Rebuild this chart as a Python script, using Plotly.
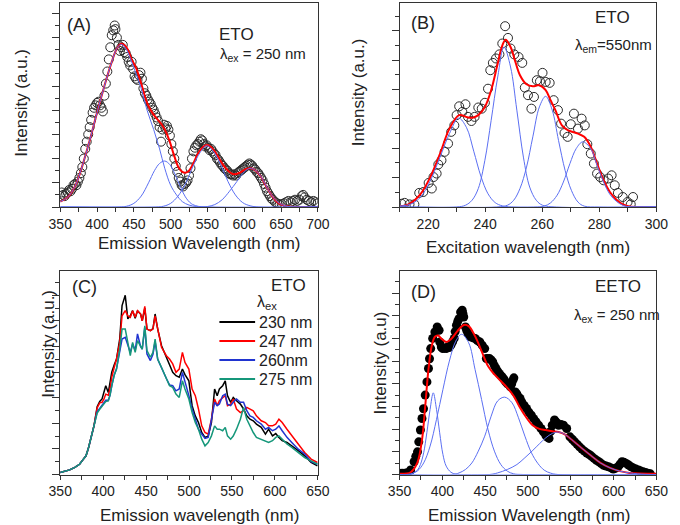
import plotly.graph_objects as go

W, H = 680, 525
def px(x): return x / W
def py(y): return 1 - y / H

FONT = "Liberation Sans, Arial, sans-serif"
RED = "#ff0000"
BLUE = "#5b6ff2"

# ---------------- Panel A: ETO emission, lambda_ex = 250 nm ----------------
a_x = [350,352,354,356,358,360,362,364,366,368,
       370,372,374,376,378,380,382,384,386,388,
       390,392,394,396,398,400,402,404,406,408,
       410,412,414,416,418,420,422,424,425,427,
       429,431,433,435,437,439,441,443,445,447,
       449,451,453,455,457,459,461,463,465,467,
       469,471,473,475,477,479,481,483,485,487,
       489,491,493,495,497,499,501,503,505,507,
       509,511,513,515,517,519,521,523,525,527,
       529,531,533,535,537,539,541,543,545,547,
       549,551,553,555,557,559,561,563,565,567,
       569,571,573,575,577,579,581,583,585,587,
       589,591,593,595,597,599,601,603,605,607,
       609,611,613,615,617,619,621,623,625,627,
       629,631,633,635,637,639,642,645,648,651,
       654,657,660,663,666,669,672,675,678,680,
       682,685,688,691,694,697,700]
a_y = [0.45,0.6,0.5,0.45,0.55,0.6,0.7,0.65,0.75,0.9,
       0.95,0.9,1.05,1.2,1.4,1.65,2.0,2.4,2.7,3.0,
       3.3,3.6,3.9,4.1,4.2,4.3,4.35,4.2,4.1,3.95,
       4.6,5.1,5.6,6.1,6.6,7.1,7.3,7.5,7.35,7.0,
       6.7,6.45,6.6,6.7,6.4,6.35,6.2,6.0,5.85,6.0,
       5.7,5.4,5.3,5.25,5.45,5.55,5.3,4.9,4.7,4.6,
       4.45,4.35,4.25,4.1,4.0,3.85,3.7,3.55,3.3,2.7,
       3.2,3.4,3.25,3.35,3.2,2.95,2.6,2.3,2.0,1.7,
       1.45,1.2,1.05,0.9,0.85,0.95,1.0,1.1,1.3,1.6,
       2.0,2.3,2.45,2.55,2.6,2.7,2.8,2.75,2.6,2.5,
       2.55,2.45,2.35,2.4,2.3,2.2,2.15,2.0,1.95,1.85,
       1.75,1.7,1.6,1.55,1.5,1.4,1.35,1.35,1.3,1.35,
       1.3,1.4,1.45,1.5,1.55,1.6,1.65,1.7,1.75,1.8,
       1.75,1.7,1.6,1.55,1.45,1.4,1.3,1.2,1.1,0.95,
       0.8,0.65,0.55,0.45,0.35,0.3,0.2,0.15,0.1,0.12,
       0.15,0.2,0.25,0.2,0.25,0.3,0.25,0.3,0.45,0.5,
       0.4,0.3,0.25,0.2,0.25,0.2,0.15]
a_fit_x = [350,360,370,380,390,400,410,420,427,433,440,447,453,461,468,475,481,487,492,498,
           505,511,516,520,525,530,537,543,549,555,562,570,578,586,594,601,608,615,622,630,
           638,645,652,660,670,700]
a_fit_y = [0.22,0.4,0.85,1.7,2.75,3.9,5.0,6.0,6.55,6.75,6.6,6.1,5.75,5.0,4.3,3.9,3.66,3.45,3.2,2.77,
           2.1,1.62,1.45,1.42,1.5,1.75,2.2,2.45,2.56,2.48,2.2,1.8,1.5,1.35,1.42,1.55,1.6,1.52,1.28,0.85,
           0.45,0.2,0.08,0.02,0,0]
a_c1_x = [350,360,370,380,390,400,410,420,427,433,440,447,453,460,468,477,485,492,500,508,516,525,535,550,700]
a_c1_y = [0.22,0.4,0.85,1.7,2.75,3.9,5.0,6.0,6.55,6.72,6.5,6.0,5.5,4.9,4.0,3.2,2.4,1.6,0.9,0.5,0.22,0.08,0.02,0,0]
a_c2_x = [350,430,440,450,460,470,478,485,492,499,506,513,520,528,536,545,700]
a_c2_y = [0,0,0.03,0.15,0.45,1.0,1.5,1.8,1.9,1.75,1.35,0.85,0.42,0.14,0.04,0,0]
a_c3_x = [350,480,490,500,510,520,530,540,549,558,568,578,588,598,608,620,700]
a_c3_y = [0,0,0.03,0.15,0.45,0.95,1.65,2.25,2.53,2.3,1.75,1.05,0.5,0.18,0.05,0,0]
a_c4_x = [350,540,550,560,570,580,590,600,608,616,624,632,640,648,656,665,700]
a_c4_y = [0,0,0.02,0.1,0.3,0.65,1.05,1.45,1.6,1.5,1.2,0.75,0.38,0.15,0.05,0,0]

# ---------------- Panel B: ETO excitation, lambda_em = 550 nm ----------------
b_x = [210.7,211.8,213.5,215.2,216.9,218.3,220.2,221.3,221.9,223,
       223.6,224.7,225.8,227,228.1,229.2,230,230.9,232,233.1,
       234,235.2,236.3,237.6,238.8,239.9,241,241.8,242.7,243.8,
       245,246,247,248,248.9,250.2,251.7,253,253.9,255,
       256.2,257.1,258.1,259.2,260.1,261.2,262.6,264,265.5,266.6,
       267.8,268.9,270,271.1,272.5,273.8,274.9,275.8,277,278.1,
       279.2,280.3,281.5,283.1,284.3,285.4,286.5,288.2,289.9,291,
       291.8]
b_y = [0.11,0.14,0.09,0.09,0.48,0.51,0.82,0.63,1.02,1.14,
       1.45,1.59,1.88,2.16,2.56,2.78,3.13,3.43,3.24,3.5,
       3.07,2.93,3.07,3.39,3.35,3.55,4.03,4.66,4.91,5.06,
       5.2,5.57,6.16,5.76,5.4,5.2,5.11,4.91,4.07,3.81,
       3.35,3.75,4.32,4.28,4.57,4.26,4.23,3.64,3.3,2.84,
       2.52,2.39,2.82,3.18,2.67,3.01,2.78,2.14,1.82,1.48,
       1.14,1.02,0.91,0.97,1.08,0.74,0.48,0.34,0.17,0.09,
       0.34]
b_fit_x = [210,213.5,217.4,220.8,224.2,227.5,230.9,233.7,235.6,237.6,239.9,242.1,244.4,246,247.2,
           248.9,250.6,252.2,254.5,256.7,259,261.2,262.9,264.6,266.9,269.1,272.5,274.7,277,279.2,
           281.5,283.7,286,288.2,290.4,293,300]
b_fit_y = [0.02,0.11,0.45,1.02,1.82,2.67,3.13,3.06,3.04,3.13,3.41,3.98,4.89,5.5,5.7,
           5.45,4.94,4.49,4.18,4.11,4.15,3.98,3.64,3.3,2.78,2.61,2.5,2.39,2.05,1.48,
           0.91,0.51,0.25,0.09,0.02,0,0]
b_c1_x = [210,214,217.4,220.8,224.2,227.5,230.7,233.5,236,238.5,241,243.5,246,250,300]
b_c1_y = [0.03,0.1,0.34,0.9,1.7,2.5,3.03,2.7,1.9,1.05,0.45,0.15,0.04,0,0]
b_c2_x = [210,230,233.1,235.4,237.6,239.9,242.1,244.4,246.6,248.9,251.1,253.4,255.6,257.9,260.1,265,300]
b_c2_y = [0,0,0.06,0.23,0.63,1.59,2.95,4.43,5.45,4.77,3.3,1.7,0.68,0.23,0.06,0,0]
b_c3_x = [210,244,247.8,250,252.2,254.5,256.7,259,261.2,263.5,265.7,268,270.2,272.5,274.7,280,300]
b_c3_y = [0,0,0.06,0.23,0.63,1.36,2.39,3.41,3.77,3.3,2.27,1.25,0.57,0.17,0.03,0,0]
b_c4_x = [210,257,260.7,262.9,265.2,267.4,269.7,271.9,274.2,277,279.2,281.5,283.7,286,288.2,290.4,295,300]
b_c4_y = [0,0,0.03,0.14,0.4,0.85,1.48,1.99,2.22,1.99,1.42,0.85,0.43,0.19,0.06,0.01,0,0]

# ---------------- Panel C: ETO emission at several excitation wavelengths ----------------
c_x = [350,355,361,367,372.5,377,380,383,385.6,389.3,
       393,396,398.7,401,403,406,408,410,413,415.5,
       419.3,422,425.7,428.7,431.6,434.3,437.3,440,443.6,445.5,
       448.5,451,455,458,460.5,463.5,468,473.6,477.3,481,
       484.8,488.6,492.3,495.3,499.8,503.6,507.3,511,514.8,518.6,
       522.3,526.1,529.8,532.8,535.4,539.2,542.2,544.8,548.5,551.5,
       555.3,559.8,563.5,567.3,571,574.8,578.5,584.1,589,592.7,
       597.2,601,604.7,608.5,614.1,619.7,627.2,634.7,642.2,649.6]
c_230 = [0.08,0.12,0.18,0.28,0.4,0.6,0.73,1.05,1.38,1.9,
         2.65,2.85,2.95,3.2,3.47,3.2,3.6,4.0,4.3,4.5,
         5.3,6.6,7.0,6.08,6.2,6.4,6.1,6.4,6.27,6.0,
         6.5,5.68,5.62,5.7,6.27,5.68,5.03,4.6,4.32,3.99,
         3.86,3.8,4.12,3.9,3.66,2.69,2.29,2.03,1.64,1.45,
         1.5,2.03,3.34,3.08,3.34,3.47,3.66,3.08,2.82,3.01,
         2.88,2.75,2.56,2.29,2.16,2.1,1.97,1.84,1.58,1.77,
         1.51,1.6,1.45,1.32,1.25,1.12,0.93,0.73,0.47,0.34]
c_247 = [0.08,0.12,0.18,0.28,0.4,0.6,0.73,1.05,1.38,1.9,
         2.6,2.8,2.82,2.95,3.14,3.1,3.35,3.8,4.2,4.5,
         5.16,6.2,6.4,6.2,6.14,6.4,6.14,6.4,6.27,6.0,
         6.57,5.68,5.62,5.68,6.2,5.68,4.97,4.64,4.51,4.32,
         3.99,4.12,4.77,4.38,4.12,3.34,3.08,2.56,1.9,1.64,
         1.58,2.16,2.95,2.69,2.88,3.0,3.08,2.69,2.75,2.95,
         2.56,2.42,2.49,2.62,2.56,2.49,2.29,2.1,2.03,1.9,
         1.9,1.97,2.16,2.03,1.77,1.51,1.19,0.86,0.6,0.47]
c_260 = [0.08,0.12,0.18,0.28,0.4,0.6,0.73,1.05,1.38,1.9,
         2.45,2.6,2.7,2.8,2.9,2.9,3.1,3.45,3.9,4.12,
         4.8,5.29,5.36,5.03,4.77,5.1,4.84,5.49,5.0,4.9,
         5.75,4.71,4.45,4.7,5.2,4.5,4.15,3.75,3.5,3.47,
         3.27,3.34,3.99,3.66,3.08,2.56,2.16,1.77,1.58,1.41,
         1.45,2.16,2.82,2.69,2.75,3.08,3.14,2.75,2.69,2.82,
         2.95,2.82,2.82,2.49,2.29,2.23,2.1,1.97,1.77,1.84,
         1.71,1.77,1.9,1.71,1.45,1.25,0.99,0.8,0.5,0.4]
c_275 = [0.08,0.12,0.18,0.28,0.4,0.6,0.73,1.05,1.38,1.9,
         2.4,2.55,2.65,2.75,2.85,2.88,3.1,3.47,3.9,4.12,
         4.9,5.68,5.68,5.16,4.64,5.16,4.77,5.23,5.03,4.9,
         5.81,4.84,4.58,4.77,5.29,4.51,4.18,3.79,3.47,3.4,
         3.14,3.01,3.66,3.34,2.95,2.42,2.03,1.77,1.38,1.12,
         1.25,1.51,1.9,1.77,1.77,1.71,1.84,1.51,1.38,1.5,
         1.77,2.16,2.62,2.16,1.9,1.64,1.45,1.38,1.32,1.25,
         1.32,1.45,1.51,1.38,1.19,1.06,0.86,0.66,0.53,0.4]
c_names = ["230 nm", "247 nm", "260nm", "275 nm"]
c_colors = ["#000000", "#ff0000", "#2034d0", "#15977a"]

# ---------------- Panel D: EETO emission, lambda_ex = 250 nm ----------------
d_x = [350,353,356,359,363,367,369,371,372.5,374.4,
       376.2,378,380,382,383.8,385,386.4,388.7,391.3,394,
       396.2,397,398.8,400.5,402.5,404.5,406.3,408,410,412,
       413.8,415,416.5,418,419.4,421.3,423.2,424,425,427,
       428.5,430,432,433.7,436,438.3,441,443.8,446.5,449.5,
       451.4,453,455.1,457,458.9,460.8,462.6,464.5,466.4,468,
       470,472,474,476,479.5,481,482.5,483.5,485.2,487,
       489,490.8,492.7,495.5,498.3,501,503.9,506.7,509.5,512.4,
       515.2,518,520.8,522.7,524.6,526.5,528.3,531,533.4,535.8,
       538.7,541.5,545.2,549,551.8,554.6,557.4,560.2,563,565.9,
       568.7,571.5,574.3,577.1,580,582.8,585.6,588.4,591.2,594,
       597,599.7,602.5,605.3,607.5,609.8,612,614.7,617.5,620.3,
       623,626,629,631.6,634.4,637.2,640,642.9]
d_y = [0.05,0.05,0.06,0.08,0.2,0.56,0.8,1.0,1.44,1.96,
       2.47,2.9,3.5,4.08,4.67,5.1,5.55,6.0,6.28,6.5,
       6.36,5.84,5.62,5.55,5.58,5.55,5.62,5.6,5.7,5.85,
       6.0,6.3,6.58,6.75,6.87,7.16,7.24,7.1,6.94,6.5,
       6.35,6.21,6.1,6.06,6.02,6.0,5.9,5.84,5.7,5.55,
       5.11,5.1,5.11,5.05,4.96,4.8,4.67,4.55,4.45,4.38,
       4.3,4.2,4.08,4.0,3.86,4.0,4.16,4.26,3.64,3.55,
       3.42,3.35,3.2,3.05,2.91,2.75,2.61,2.46,2.32,2.17,
       2.03,1.88,1.73,1.65,1.59,1.9,2.17,2.4,2.3,2.17,
       2.2,2.17,2.03,1.66,1.55,1.44,1.33,1.22,1.12,1.03,
       0.95,0.88,0.8,0.71,0.63,0.56,0.48,0.41,0.37,0.34,
       0.29,0.24,0.28,0.34,0.45,0.56,0.54,0.49,0.42,0.34,
       0.29,0.24,0.2,0.15,0.12,0.09,0.06,0.03]
d_fit_x = [350,363,370.7,376.3,380,383.8,387.6,391.3,395,398.8,404.5,410,417.6,425,430.7,438.2,445.8,
           453.3,460.8,468.3,475.8,483.3,490.8,498.3,505.8,513.3,520.9,528.4,535.9,543.4,550.9,562.2,
           573.4,584.7,596,607.2,618.5,650]
d_fit_y = [0.03,0.1,0.51,1.54,3.01,4.63,5.66,6.07,6.13,5.99,5.84,5.96,6.32,6.59,6.54,6.1,5.44,
           4.78,4.41,4.12,3.82,3.46,2.94,2.5,2.16,2.01,1.96,1.91,1.87,1.76,1.54,1.18,
           0.84,0.51,0.29,0.15,0.07,0.03]
d_c1_x = [350,362,365,370.7,374.4,378.2,381.9,385.7,389.4,393.2,396.9,400.7,404.5,410,415.7,425,650]
d_c1_y = [0,0,0.04,0.18,0.44,0.96,1.84,2.87,3.6,2.87,1.84,0.88,0.37,0.1,0.01,0,0]
d_c2_x = [350,358,363.1,370.7,378.2,385.7,393.2,400.7,408.2,415.7,422.5,430.7,438.2,445.8,453.3,460.8,468.3,475.8,483.3,495,650]
d_c2_y = [0,0,0.03,0.15,0.51,1.25,2.43,3.75,5.0,5.88,6.18,5.81,4.63,3.31,1.99,1.03,0.44,0.15,0.03,0,0]
d_c3_x = [350,412,419.5,427,434.5,442,449.5,457,464.5,472.8,481.4,488.9,496.4,504,511.5,519,526.5,535,650]
d_c3_y = [0,0,0.07,0.22,0.51,1.03,1.69,2.57,3.24,3.41,3.16,2.5,1.69,0.96,0.49,0.19,0.06,0,0]
d_c4_x = [350,455,464.5,475.8,487.1,496.4,505.8,513.3,520.9,528.4,535.9,543.4,550.9,562.2,573.4,584.7,596,607.2,618.5,637,650]
d_c4_y = [0,0,0.07,0.22,0.44,0.74,1.07,1.35,1.62,1.81,1.87,1.76,1.54,1.18,0.84,0.51,0.29,0.15,0.07,0.01,0]

fig = go.Figure()

def circles(x, y, ax, filled=False, size=9):
    if filled:
        m = dict(symbol="circle", size=size, color="#000000", line=dict(width=0))
    else:
        m = dict(symbol="circle-open", size=size, color="#2a2a2a", line=dict(width=1))
    fig.add_trace(go.Scatter(x=x, y=y, mode="markers", marker=m, xaxis="x" + ax, yaxis="y" + ax,
                             showlegend=False, hoverinfo="skip"))

def curve(x, y, ax, color, width):
    fig.add_trace(go.Scatter(x=x, y=y, mode="lines", line=dict(color=color, width=width, shape="spline", smoothing=1.0),
                             xaxis="x" + ax, yaxis="y" + ax, showlegend=False, hoverinfo="skip"))

# A
circles(a_x, a_y, "")
curve(a_fit_x, a_fit_y, "", RED, 2)
for cx, cy in [(a_c1_x, a_c1_y), (a_c2_x, a_c2_y), (a_c3_x, a_c3_y), (a_c4_x, a_c4_y)]:
    curve(cx, cy, "", BLUE, 1)
# B
circles(b_x, b_y, "2")
curve(b_fit_x, b_fit_y, "2", RED, 2)
for cx, cy in [(b_c1_x, b_c1_y), (b_c2_x, b_c2_y), (b_c3_x, b_c3_y), (b_c4_x, b_c4_y)]:
    curve(cx, cy, "2", BLUE, 1)
# C
for name, ys, col in zip(c_names, [c_230, c_247, c_260, c_275], c_colors):
    fig.add_trace(go.Scatter(x=c_x, y=ys, mode="lines", name=name, line=dict(color=col, width=1.5),
                             xaxis="x3", yaxis="y3", showlegend=False, hoverinfo="skip"))
# D
circles(d_x, d_y, "4", filled=True, size=9)
curve(d_fit_x, d_fit_y, "4", RED, 2)
for cx, cy in [(d_c1_x, d_c1_y), (d_c2_x, d_c2_y), (d_c3_x, d_c3_y), (d_c4_x, d_c4_y)]:
    curve(cx, cy, "4", BLUE, 1)

AX = "#333333"
TICKFONT = dict(family=FONT, size=14, color="#222222")
def xaxis(x0, x1, y_anchor, rng, dtick, tick0, minor):
    return dict(domain=[px(x0), px(x1)], anchor=y_anchor, range=rng, showline=True, mirror=True,
                linecolor=AX, linewidth=1, ticks="outside", ticklen=4, tickwidth=1, tickcolor=AX,
                dtick=dtick, tick0=tick0, minor=dict(dtick=minor, tick0=tick0, ticks="outside", ticklen=4, tickcolor=AX),
                tickfont=TICKFONT, showgrid=False, zeroline=False)

def yaxis(top, bottom, x_anchor, ymax):
    return dict(domain=[py(bottom), py(top)], anchor=x_anchor, range=[0, ymax], showline=True, mirror=True,
                linecolor=AX, linewidth=1, ticks="outside", ticklen=7, tickwidth=1, tickcolor=AX,
                dtick=1, tick0=0, minor=dict(dtick=0.5, ticks="outside", ticklen=4, tickcolor=AX),
                showticklabels=False, showgrid=False, zeroline=False)

AL, AR, BL, BR = 50, 317, 401.7, 668
TOP1, BOT1, TOP2, BOT2 = 3, 207, 271, 474.5

fig.update_layout(
    width=W, height=H, margin=dict(l=0, r=0, t=0, b=0), autosize=False,
    paper_bgcolor="white", plot_bgcolor="white", showlegend=False,
    font=dict(family=FONT, color="#222222", size=16),
    xaxis=xaxis(AL, AR, "y", [350, 700], 50, 350, 25),
    yaxis=yaxis(TOP1, BOT1, "x", 8.43),
    xaxis2=xaxis(BL, BR, "y2", [210, 300], 20, 200, 10),
    yaxis2=yaxis(TOP1, BOT1, "x2", 6.95),
    xaxis3=xaxis(AL, AR, "y3", [350, 650], 50, 350, 25),
    yaxis3=yaxis(TOP2, BOT2, "x3", 7.95),
    xaxis4=xaxis(BL, BR, "y4", [350, 650], 50, 350, 25),
    yaxis4=yaxis(TOP2, BOT2, "x4", 8.97),
)

def note(text, x, y, size=17, xanchor="left", angle=0):
    fig.add_annotation(text=text, x=px(x), y=py(y), xref="paper", yref="paper", showarrow=False,
                       xanchor=xanchor, yanchor="middle", textangle=angle,
                       font=dict(family=FONT, size=size, color="#222222"))

# axis titles
note("Emission Wavelength (nm)", 194, 243, xanchor="center")
note("Excitation wavelength (nm)", 535, 247, xanchor="center")
note("Emission wavelength (nm)", 194, 515, xanchor="center")
note("Emission Wavelength (nm)", 536, 515, xanchor="center")
note("Intensity (a.u.)", 9, 103, xanchor="center", angle=-90)
note("Intensity (a.u.)", 360, 92, xanchor="center", angle=-90)
note("Intensity (a.u.)", 37, 344, xanchor="center", angle=-90)
note("Intensity (a.u)", 381, 363, xanchor="center", angle=-90)

# panel labels
note("(A)", 55, 25, size=18)
note("ETO", 213, 34, size=17)
note("λ<sub>ex</sub> = 250 nm", 214, 55, size=15)
note("(B)", 412, 23, size=18)
note("ETO", 602, 18, size=17)
note("λ<sub>em</sub>=550nm", 582, 45, size=15)
note("(C)", 60, 287, size=18)
note("ETO", 307, 285, size=17, xanchor="right")
note("λ<sub>ex</sub>", 252, 302, size=16)
note("(D)", 412, 292, size=18)
note("EETO", 602, 286, size=17)
note("λ<sub>ex</sub> = 250 nm", 580, 315, size=15)

# legend of panel C (key samples + labels)
leg_rows = [322, 341, 360, 379]
for name, col, yr in zip(c_names, c_colors, leg_rows):
    fig.add_shape(type="line", xref="paper", yref="paper", x0=px(215), x1=px(252), y0=py(yr), y1=py(yr),
                  line=dict(color=col, width=2))
    note(name, 254, yr, size=16)

fig.write_html("out.html")
